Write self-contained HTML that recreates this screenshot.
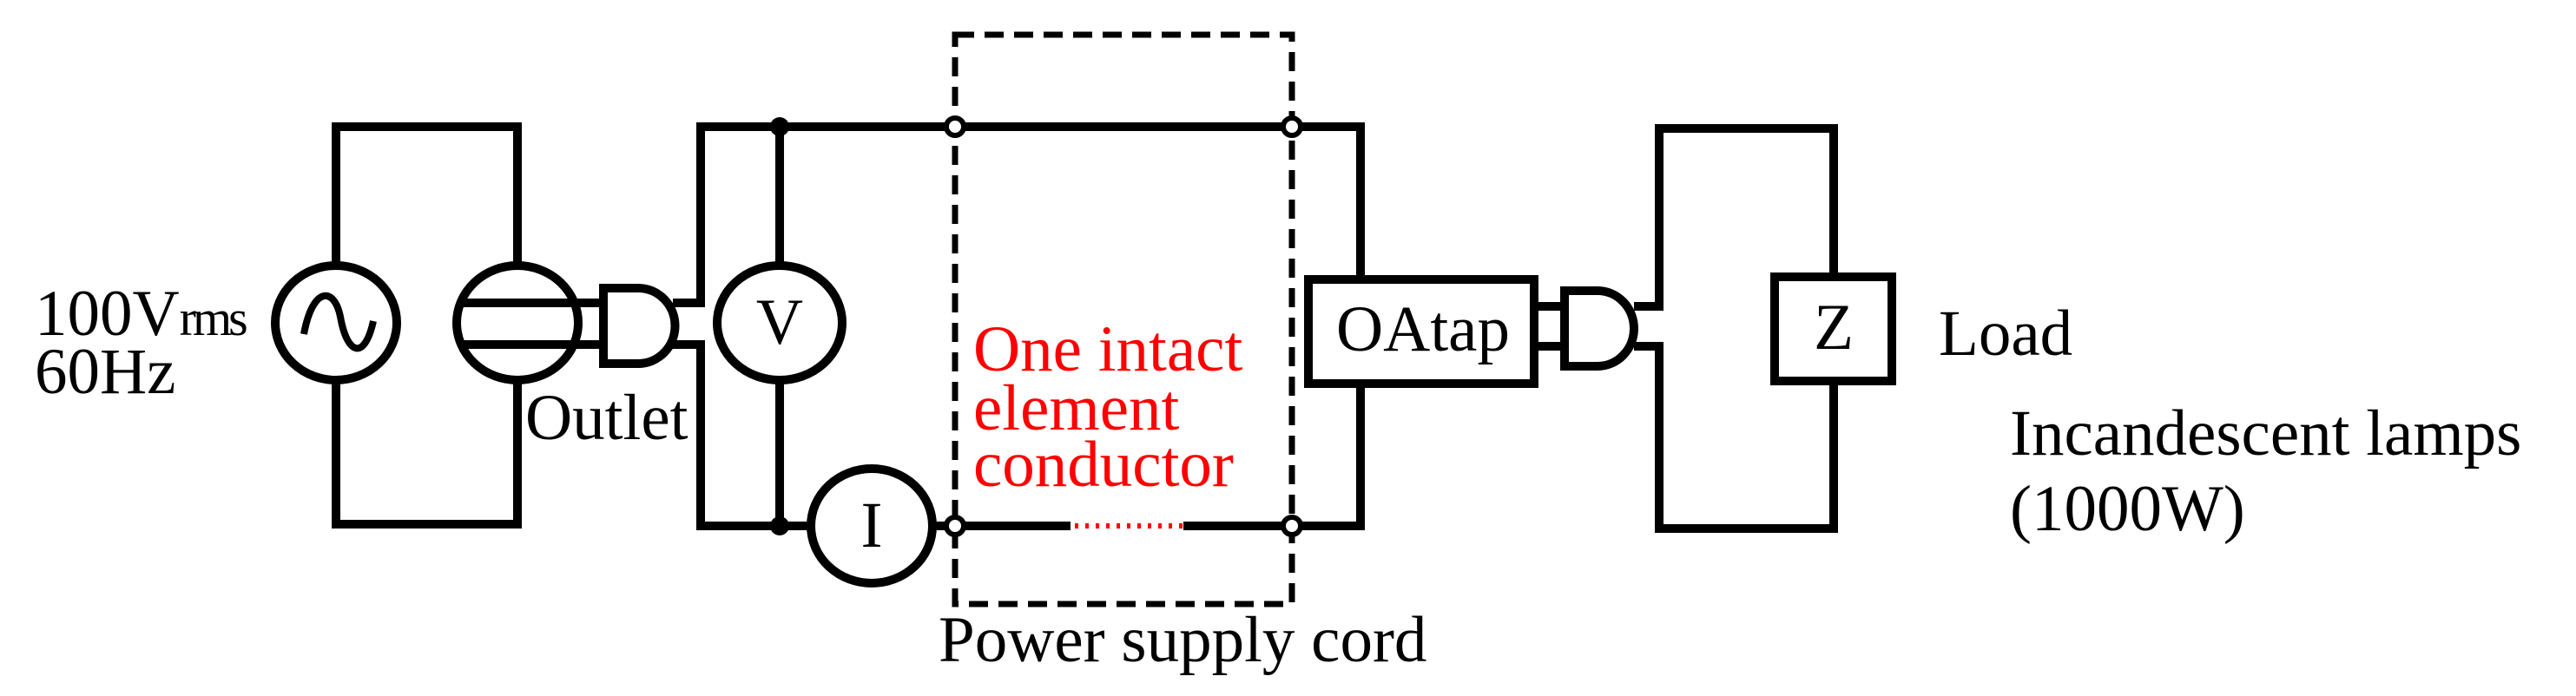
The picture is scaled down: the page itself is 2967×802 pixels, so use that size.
<!DOCTYPE html>
<html><head><style>html,body{margin:0;padding:0;background:#fff}svg{display:block}</style></head>
<body>
<svg width="2967" height="802" viewBox="0 0 2967 802" xmlns="http://www.w3.org/2000/svg" font-family="Liberation Serif, serif" font-size="75">
<g fill="none" stroke="#000" stroke-width="10">
<polyline points="387,304 387,146 596,146 596,304"/>
<polyline points="387,440 387,604 596,604 596,440"/>
<ellipse cx="387" cy="372" rx="70" ry="66"/>
<path d="M350,385 C360,330 385,330 392,365 C400,410 420,415 430,370" stroke-width="8"/>
<ellipse cx="596" cy="372" rx="70" ry="66"/>
<line x1="529" y1="349" x2="670" y2="349"/>
<line x1="529" y1="397" x2="670" y2="397"/>
<line x1="666" y1="349" x2="695" y2="349"/>
<line x1="666" y1="397" x2="695" y2="397"/>
<path d="M695,332 L735,332 A42,43 0 0 1 735,419 L695,419 Z"/>
<polyline points="775,349 807,349 807,146 1567,146 1567,322"/>
<polyline points="775,397 807,397 807,606 933,606"/>
<line x1="898" y1="146" x2="898" y2="306"/>
<line x1="898" y1="438" x2="898" y2="606"/>
<ellipse cx="898" cy="372" rx="72" ry="66"/>
<ellipse cx="1004" cy="606" rx="70" ry="66"/>
<line x1="1074" y1="606" x2="1233" y2="606"/>
<polyline points="1363,606 1567,606 1567,442"/>
<rect x="1507" y="322" width="260" height="120"/>
<line x1="1767" y1="353" x2="1802" y2="353"/>
<line x1="1767" y1="399" x2="1802" y2="399"/>
<path d="M1802,335 L1840,335 A42,43.5 0 0 1 1840,422 L1802,422 Z"/>
<polyline points="1882,353 1911,353 1911,148 2112,148 2112,319"/>
<polyline points="1882,399 1911,399 1911,609 2112,609 2112,439"/>
<rect x="2044" y="319" width="135" height="120"/>
<rect x="1100" y="40" width="388" height="656" stroke-width="7" stroke-dasharray="22,12"/>
<line x1="1238" y1="606" x2="1363" y2="606" stroke="#f00" stroke-width="6" stroke-dasharray="4,8"/>
</g>
<g fill="#000"><circle cx="898" cy="146" r="11"/><circle cx="898" cy="606" r="11"/></g>
<g fill="#fff" stroke="#000" stroke-width="6">
<circle cx="1100" cy="146" r="10"/><circle cx="1488" cy="146" r="10"/>
<circle cx="1100" cy="606" r="10"/><circle cx="1488" cy="606" r="10"/>
</g>
<g fill="#000">
<text x="40" y="386">100V<tspan font-size="58" letter-spacing="-4">rms</tspan></text>
<text x="40" y="453">60Hz</text>
<text x="605" y="506">Outlet</text>
<text x="898" y="396" text-anchor="middle">V</text>
<text x="1004" y="630" text-anchor="middle">I</text>
<text x="1539" y="404">OAtap</text>
<text x="2112" y="402" text-anchor="middle">Z</text>
<text x="2233" y="409">Load</text>
<text x="2315" y="524">Incandescent lamps</text>
<text x="2315" y="611">(1000W)</text>
<text x="1081" y="762">Power supply cord</text>
</g>
<g fill="#f00">
<text x="1121" y="427">One intact</text>
<text x="1121" y="495">element</text>
<text x="1121" y="560">conductor</text>
</g>
</svg>
</body></html>
